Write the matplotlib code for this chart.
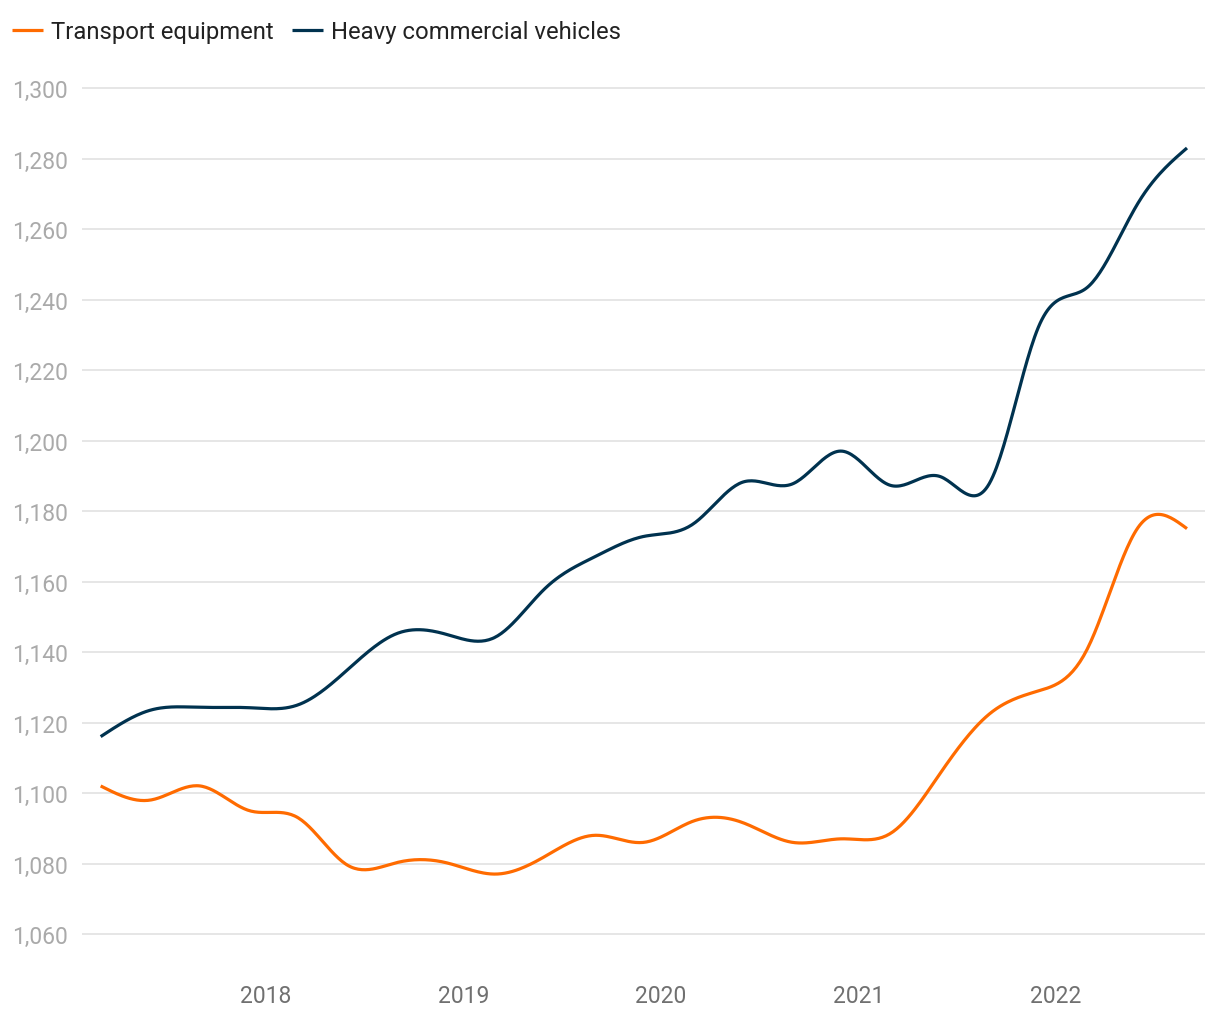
import numpy as np
import pandas as pd
import matplotlib
matplotlib.use("Agg")
import matplotlib.pyplot as plt
import matplotlib.dates as mdates
from matplotlib.ticker import FuncFormatter

plt.rcParams['font.family'] = ['Roboto', 'DejaVu Sans']

# quarterly observations, 2017Q1 - 2022Q3
quarters = pd.period_range("2017Q1", "2022Q3", freq="Q")
transport_equipment = [1102, 1098, 1102, 1095, 1093, 1079.5, 1080.3, 1080.2, 1077, 1082,
                       1088, 1086, 1092, 1091.6, 1086, 1087, 1088.5, 1105.5, 1122.5, 1129,
                       1141, 1175, 1175]
heavy_commercial = [1116, 1123.5, 1124.3, 1124.2, 1125, 1135, 1145.3, 1145, 1144.2, 1158,
                    1167, 1172.8, 1176.3, 1188.2, 1187.7, 1197, 1187.3, 1189.8, 1188, 1232.5,
                    1243.5, 1267, 1283]
series_names = ["Transport equipment", "Heavy commercial vehicles"]
series_colors = ["#ff6b00", "#00324f"]
y_ticks = list(range(1060, 1301, 20))

# each quarter plotted at the end of its middle month
dates = (quarters.asfreq("M", how="start") + 1).to_timestamp(how="end")
xnum = mdates.date2num(dates)


def natural_spline(x, y, n=600):
    # natural cubic spline, just for drawing a smooth line
    x = np.asarray(x, float)
    y = np.asarray(y, float)
    k = len(x)
    h = np.diff(x)
    A = np.zeros((k, k))
    b = np.zeros(k)
    A[0, 0] = A[-1, -1] = 1
    for i in range(1, k - 1):
        A[i, i - 1] = h[i - 1]
        A[i, i] = 2 * (h[i - 1] + h[i])
        A[i, i + 1] = h[i]
        b[i] = 3 * ((y[i + 1] - y[i]) / h[i] - (y[i] - y[i - 1]) / h[i - 1])
    c = np.linalg.solve(A, b)
    xs = np.linspace(x[0], x[-1], n)
    idx = np.clip(np.searchsorted(x, xs) - 1, 0, k - 2)
    dx = xs - x[idx]
    hi = h[idx]
    bb = (y[idx + 1] - y[idx]) / hi - hi * (2 * c[idx] + c[idx + 1]) / 3
    dd = (c[idx + 1] - c[idx]) / (3 * hi)
    ys = y[idx] + bb * dx + c[idx] * dx ** 2 + dd * dx ** 3
    return xs, ys


fig = plt.figure(figsize=(12.2, 10.2), dpi=100)
ax = fig.add_axes([0.067, 0.0588, 0.921, 0.8677])

for vals, name, col in zip([transport_equipment, heavy_commercial], series_names, series_colors):
    xs, ys = natural_spline(xnum, vals)
    ax.plot(xs, ys, color=col, lw=2.3, label=name, solid_capstyle='butt')

ax.set_ylim(1052.9, 1304)
ax.set_xlim(mdates.date2num(pd.Timestamp("2017-01-25")), mdates.date2num(pd.Timestamp("2022-10-05")))
ax.set_yticks(y_ticks)
ax.yaxis.set_major_formatter(FuncFormatter(lambda v, p: f"{int(v):,}"))
ax.xaxis.set_major_locator(mdates.YearLocator())
ax.xaxis.set_major_formatter(mdates.DateFormatter("%Y"))
ax.grid(axis='y', color='#e2e2e2', lw=1.2)
ax.set_axisbelow(True)
for s in ax.spines.values():
    s.set_visible(False)
ax.tick_params(axis='y', length=0, pad=10, labelsize=16.5, labelcolor='#aaaaaa')
ax.tick_params(axis='x', length=0, pad=18, labelsize=16.5, labelcolor='#707070')

fig.legend(loc='upper left', bbox_to_anchor=(-0.008, 1.0), ncol=2, frameon=False,
           fontsize=17.2, handlelength=1.3, handletextpad=0.35, columnspacing=0.75,
           labelcolor='#222222')

plt.savefig("out.png", dpi=100)
